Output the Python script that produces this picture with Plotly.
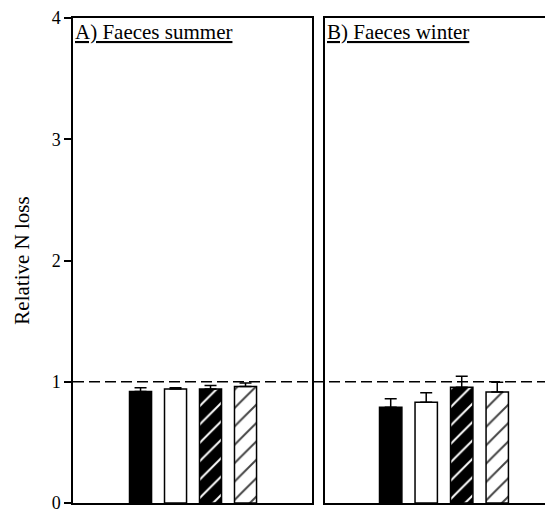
import plotly.graph_objects as go

# Data
treatments = ["T1", "T2", "T3", "T4"]
positions = [0, 1, 2, 3]
summer_vals = [0.92, 0.94, 0.94, 0.96]
summer_err = [0.03, 0.01, 0.03, 0.03]
winter_vals = [0.79, 0.83, 0.955, 0.915]
winter_err = [0.07, 0.08, 0.09, 0.08]
panel_titles = ["A) Faeces summer", "B) Faeces winter"]
y_ticks = [0, 1, 2, 3, 4]
reference_level = 1.0

fill_colors = ["black", "white", "black", "white"]
pattern_shapes = ["", "", "/", "/"]
pattern_fg = ["black", "black", "white", "black"]

FONT = "Liberation Serif, Times New Roman, serif"

fig = go.Figure()

def add_bars(vals, errs, xaxis, yaxis):
    fig.add_trace(go.Bar(
        x=positions, y=vals, width=0.63,
        marker=dict(color=fill_colors, line=dict(color="black", width=1.5),
                    pattern=dict(shape=pattern_shapes, fgcolor=pattern_fg, fgopacity=1,
                                 fillmode="overlay", size=13, solidity=0.15)),
        error_y=dict(type="data", array=errs, arrayminus=[0]*len(errs), symmetric=False,
                     color="black", thickness=1.5, width=6),
        xaxis=xaxis, yaxis=yaxis, showlegend=False,
    ))

add_bars(summer_vals, summer_err, "x", "y")
add_bars(winter_vals, winter_err, "x2", "y2")

# page body adds an 8px offset
W, H = 545, 505
L, R, T, B = 65, 0, 7, 8
pw = W - L - R

fig.update_layout(
    width=W, height=H,
    margin=dict(l=L, r=R, t=T, b=B),
    paper_bgcolor="white", plot_bgcolor="white",
    font=dict(family=FONT, size=18, color="black"),
    xaxis=dict(domain=[0, 239 / pw], range=[-1.93, 4.9], showticklabels=False,
               ticks="", showgrid=False, zeroline=False,
               showline=True, linecolor="black", linewidth=1.5, mirror=True),
    xaxis2=dict(domain=[252 / pw, 1], range=[-1.85, 4.57], showticklabels=False,
                ticks="", showgrid=False, zeroline=False,
                showline=True, linecolor="black", linewidth=1.5, mirror=True),
    yaxis=dict(domain=[0, 1], range=[0, 4], tickvals=y_ticks, ticks="outside",
               ticklen=7, tickwidth=1.5, tickcolor="black", showgrid=False, zeroline=False,
               showline=True, linecolor="black", linewidth=1.5, mirror=True,
               ticklabeloverflow="allow",
               tickfont=dict(family=FONT, size=18),
               title=dict(text="Relative N loss", font=dict(family=FONT, size=21), standoff=16)),
    yaxis2=dict(domain=[0, 1], range=[0, 4], anchor="x2", showticklabels=False,
                ticks="", showgrid=False, zeroline=False,
                showline=True, linecolor="black", linewidth=1.5, mirror=False),
)

fig.add_shape(type="line", xref="paper", yref="y", x0=0, x1=1,
              y0=reference_level, y1=reference_level,
              line=dict(color="black", width=1.5, dash="11px,5px"))

for i, t in enumerate(panel_titles):
    xr = "x domain" if i == 0 else "x2 domain"
    fig.add_annotation(text="<u>" + t + "</u>", xref=xr, yref="paper", x=0.0, y=1.0,
                       xanchor="left", yanchor="top", showarrow=False,
                       font=dict(family=FONT, size=21, color="black"))

fig.write_html("out.html")
